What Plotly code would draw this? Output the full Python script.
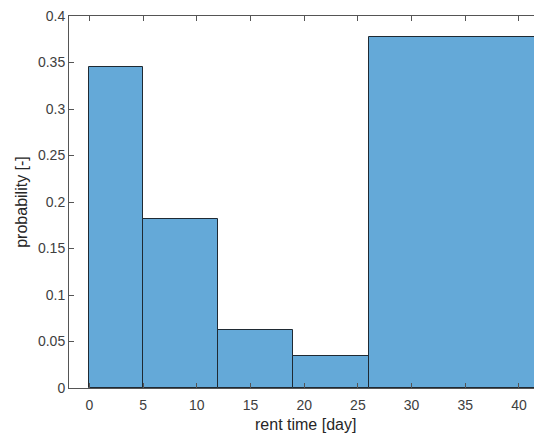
import plotly.graph_objects as go

# Histogram data (bin edges in days, probabilities)
bin_edges = [0, 5, 12, 19, 26, 45]
probabilities = [0.345, 0.182, 0.062, 0.034, 0.377]
x_ticks = [0, 5, 10, 15, 20, 25, 30, 35, 40]
y_ticks = [0, 0.05, 0.1, 0.15, 0.2, 0.25, 0.3, 0.35, 0.4]
y_tick_labels = ["0", "0.05", "0.1", "0.15", "0.2", "0.25", "0.3", "0.35", "0.4"]

centers = [(a + b) / 2 for a, b in zip(bin_edges[:-1], bin_edges[1:])]
widths = [b - a for a, b in zip(bin_edges[:-1], bin_edges[1:])]

font = "Liberation Sans, Arial, sans-serif"

fig = go.Figure(
    go.Bar(
        x=centers,
        y=probabilities,
        width=widths,
        marker=dict(color="#64A9D8", line=dict(color="#1f2a33", width=1)),
        hoverinfo="skip",
    )
)

fig.update_layout(
    width=534,
    height=436,
    margin=dict(l=69, r=0, t=16, b=48),
    paper_bgcolor="white",
    plot_bgcolor="white",
    showlegend=False,
    font=dict(family=font, size=14, color="#404040"),
    bargap=0,
)

fig.update_xaxes(
    range=[-1.9, 41.4],
    tickvals=x_ticks,
    ticks="inside",
    ticklen=5,
    tickcolor="#555555",
    ticklabelstandoff=4,
    showline=True,
    linecolor="#555555",
    linewidth=1,
    mirror="ticks",
    showgrid=False,
    zeroline=False,
)
fig.update_yaxes(
    range=[0, 0.4],
    tickvals=y_ticks,
    ticktext=y_tick_labels,
    ticks="inside",
    ticklen=5,
    tickcolor="#555555",
    showline=True,
    linecolor="#555555",
    linewidth=1,
    mirror=False,
    showgrid=False,
    zeroline=False,
    title=dict(text="probability [-]", font=dict(size=16, color="#262626"), standoff=6),
)

fig.add_annotation(
    text="rent time [day]",
    x=20.1, xref="x",
    y=0, yref="paper",
    yshift=-36,
    showarrow=False,
    yanchor="middle",
    font=dict(family=font, size=16, color="#262626"),
)

fig.write_html("out.html")
